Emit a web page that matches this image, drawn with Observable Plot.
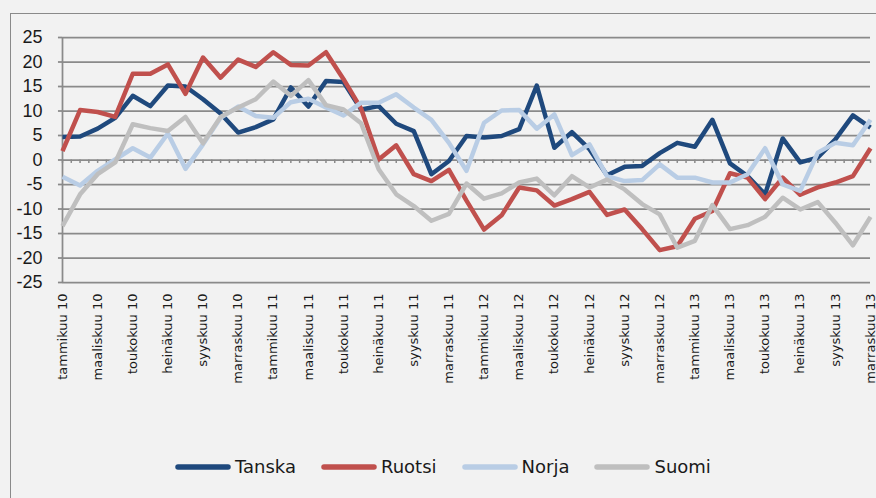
<!DOCTYPE html>
<html>
<head>
<meta charset="utf-8">
<script src="https://cdn.jsdelivr.net/npm/d3@7"></script>
<script src="https://cdn.jsdelivr.net/npm/@observablehq/plot@0.6"></script>
<style>
  html, body { margin: 0; padding: 0; }
  body { width: 876px; height: 498px; overflow: hidden; position: relative; background: #f2f2f2; }
  #frame { position: absolute; left: 10px; top: 13px; width: 900px; height: 600px;
           border-left: 1.5px solid #8a8a8a; border-top: 1.5px solid #8a8a8a; }
  #chart { position: absolute; left: 0; top: 0; }
  #legend { position: absolute; left: 175px; top: 456px; display: flex; gap: 25px;
            font-family: "DejaVu Sans", sans-serif; font-size: 18px; color: #1a1a1a; }
  .item { display: flex; align-items: center; }
  .item svg { margin-right: 4px; }
</style>
</head>
<body>
<div id="frame"></div>
<div id="chart"></div>
<div id="legend"></div>
<script>
const monthNames = ["tammikuu","helmikuu","maaliskuu","huhtikuu","toukokuu","kesäkuu","heinäkuu","elokuu","syyskuu","lokakuu","marraskuu","joulukuu"];
const yearLabels = ["10","11","12","13"];
const seriesNames = ["Tanska","Ruotsi","Norja","Suomi"];
const seriesColors = ["#1f497d","#c0504d","#b9cde5","#bfbfbf"];
const yTicks = [-25,-20,-15,-10,-5,0,5,10,15,20,25];

const tanska = [4.7, 4.8, 6.4, 8.6, 13.1, 11.0, 15.2, 15.0, 12.4, 9.5, 5.6, 6.7, 8.3, 14.8, 10.9, 16.1,
  15.9, 10.3, 11.0, 7.4, 5.9, -2.9, -0.2, 4.9, 4.6, 4.9, 6.3, 15.2, 2.5, 5.7, 2.2,
  -3.1, -1.4, -1.2, 1.4, 3.5, 2.7, 8.2, -0.7, -3.3, -7.0, 4.4, -0.5, 0.5, 4.2, 9.1, 6.6];
const ruotsi = [1.8, 10.2, 9.8, 8.8, 17.6, 17.6, 19.5, 13.5, 20.9, 16.8, 20.5, 19.0, 22.0, 19.4, 19.3, 22.0,
  16.5, 10.5, 0.1, 3.0, -2.9, -4.3, -2.0, -8.3, -14.2, -11.3, -5.6, -6.2, -9.3, -8.0, -6.5,
  -11.2, -10.1, -14.1, -18.4, -17.6, -12.0, -10.4, -2.7, -3.6, -8.0, -3.6, -7.1, -5.6, -4.6, -3.3, 2.4];
const norja = [-3.4, -5.2, -2.2, 0.1, 2.4, 0.5, 5.4, -1.8, 3.2, 8.6, 10.9, 9.0, 8.6, 11.8, 12.5, 10.7,
  9.1, 11.7, 11.7, 13.4, 10.7, 8.2, 3.5, -2.2, 7.6, 10.1, 10.2, 6.4, 9.3, 1.0, 3.2,
  -3.3, -4.3, -4.1, -0.9, -3.6, -3.6, -4.6, -4.6, -2.9, 2.4, -5.0, -6.3, 1.5, 3.5, 3.0, 8.2];
const suomi = [-13.5, -7.0, -2.9, -0.5, 7.3, 6.5, 5.9, 8.8, 3.4, 8.8, 10.7, 12.4, 16.0, 13.1, 16.3, 11.2,
  10.3, 7.5, -1.9, -7.0, -9.4, -12.4, -11.0, -4.8, -7.9, -6.8, -4.6, -3.8, -7.2, -3.3, -5.6,
  -4.0, -6.0, -9.0, -11.1, -17.9, -16.5, -9.2, -14.1, -13.3, -11.6, -7.7, -10.1, -8.6, -12.8, -17.4, -11.6];

const values = [tanska, ruotsi, norja, suomi];
const n = tanska.length;
const labels = d3.range(n).map(i => monthNames[i % 12] + " " + yearLabels[Math.floor(i / 12)]);
const labelIdx = d3.range(0, n, 2);
const minorTicks = d3.range(0, n - 0.99, 0.5);

const rows = seriesNames.flatMap((s, k) => values[k].map((v, i) => ({s, i, v})));

const chart = Plot.plot({
  width: 876,
  height: 440,
  marginLeft: 62,
  marginRight: 6,
  marginTop: 37,
  marginBottom: 158,
  style: {background: "transparent", color: "#1a1a1a", overflow: "visible"},
  x: {domain: [0, n - 1], label: null},
  y: {domain: [-25, 25], label: null},
  color: {domain: seriesNames, range: seriesColors},
  marks: [
    Plot.ruleY(yTicks, {stroke: "#8a8a8a", strokeWidth: 1.75}),
    Plot.ruleY(yTicks, {x1: -0.23, x2: 0, stroke: "#8a8a8a", strokeWidth: 1.75}),
    Plot.ruleX([0], {y1: -25, y2: 25, stroke: "#8a8a8a", strokeWidth: 1.75}),
    Plot.ruleX(minorTicks, {x: d => d, y1: 0, y2: -0.7, stroke: "#8a8a8a", strokeWidth: 1.5}),
    Plot.axisY({ticks: yTicks, label: null, tickSize: 0, tickPadding: 20, fontSize: 18, fontFamily: "Liberation Sans", tickFormat: d => String(d)}),
    Plot.axisX({ticks: labelIdx, label: null, tickFormat: i => labels[i], tickRotate: -90, tickSize: 0, tickPadding: 11, fontSize: 13, fontFamily: "DejaVu Sans"}),
    Plot.line(rows, {x: "i", y: "v", z: "s", stroke: "s", strokeWidth: 4.5, strokeLinejoin: "round", strokeLinecap: "butt"})
  ]
});
document.getElementById("chart").appendChild(chart);

const legend = document.getElementById("legend");
seriesNames.forEach((s, k) => {
  const item = document.createElement("div");
  item.className = "item";
  item.innerHTML = `<svg width="56" height="10"><line x1="3" y1="5" x2="53" y2="5" stroke="${seriesColors[k]}" stroke-width="5.5" stroke-linecap="round"/></svg><span>${s}</span>`;
  legend.appendChild(item);
});
</script>
</body>
</html>
